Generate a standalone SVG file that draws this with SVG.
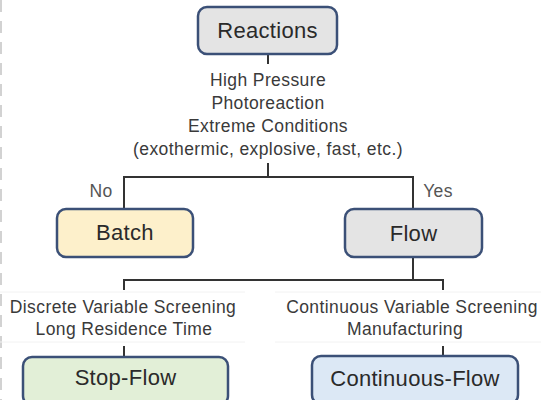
<svg xmlns="http://www.w3.org/2000/svg" width="541" height="400" viewBox="0 0 541 400">
  <style>
    .box { stroke: #3b5077; stroke-width: 2.5; }
    .gray { fill: #e4e4e4; }
    .yellow { fill: #fdf0cb; }
    .green { fill: #e2efd7; }
    .blue { fill: #dce8f5; }
    .lbl { font-family: "Liberation Sans", Arial, sans-serif; font-size: 22px; letter-spacing: 0.3px; fill: #2a2a2a; text-anchor: middle; }
    .txt { font-family: "Liberation Sans", Arial, sans-serif; font-size: 17.5px; letter-spacing: 0.4px; fill: #3a3a3a; text-anchor: middle; }
    .conn { fill: none; stroke: #333; stroke-width: 2; }
    .faint { stroke: #f2f2f2; stroke-width: 1; }
  </style>
  <rect width="541" height="400" fill="#fff"/>
  <line x1="1" y1="0" x2="1" y2="400" stroke="#c4c4c4" stroke-width="1.5" stroke-dasharray="12 9"/>
  <g id="faint-lines">
    <line class="faint" x1="0" y1="292" x2="245" y2="292"/>
    <line class="faint" x1="0" y1="342" x2="245" y2="342"/>
    <line class="faint" x1="275" y1="292" x2="541" y2="292"/>
    <line class="faint" x1="275" y1="342" x2="541" y2="342"/>
  </g>
  <g id="connectors">
    <path class="conn" d="M268 54 V64"/>
    <path class="conn" d="M268 163 V177"/>
    <path class="conn" d="M124 209 V177 H413 V209"/>
    <path class="conn" d="M413 257 V280"/>
    <path class="conn" d="M124 290 V280 H443 V290"/>
    <path class="conn" d="M124 346 V357"/>
    <path class="conn" d="M443 346 V356"/>
  </g>
  <g id="condition-text">
    <text class="txt" x="268" y="86">High Pressure</text>
    <text class="txt" x="268" y="109">Photoreaction</text>
    <text class="txt" x="268" y="132">Extreme Conditions</text>
    <text class="txt" x="268" y="155">(exothermic, explosive, fast, etc.)</text>
  </g>
  <g id="label-no"><text class="txt" x="101" y="197" style="fill:#555">No</text></g>
  <g id="label-yes"><text class="txt" x="438" y="197" style="fill:#555">Yes</text></g>
  <g id="stop-flow-text">
    <text class="txt" x="123" y="313">Discrete Variable Screening</text>
    <text class="txt" x="124" y="335">Long Residence Time</text>
  </g>
  <g id="continuous-flow-text">
    <text class="txt" x="412" y="313">Continuous Variable Screening</text>
    <text class="txt" x="405" y="335">Manufacturing</text>
  </g>
  <g id="reactions">
    <rect class="box gray" x="198" y="7" width="139" height="47" rx="9"/>
    <text class="lbl" x="267.5" y="38">Reactions</text>
  </g>
  <g id="batch">
    <rect class="box yellow" x="57" y="209" width="136" height="48" rx="9"/>
    <text class="lbl" x="125" y="240">Batch</text>
  </g>
  <g id="flow">
    <rect class="box gray" x="345" y="209" width="137" height="48" rx="9"/>
    <text class="lbl" x="413.5" y="241">Flow</text>
  </g>
  <g id="stop-flow">
    <rect class="box green" x="23" y="357" width="205" height="48" rx="9"/>
    <text class="lbl" x="125.5" y="385">Stop-Flow</text>
  </g>
  <g id="continuous-flow">
    <rect class="box blue" x="312" y="356" width="206" height="48" rx="9"/>
    <text class="lbl" x="415" y="386">Continuous-Flow</text>
  </g>
</svg>
